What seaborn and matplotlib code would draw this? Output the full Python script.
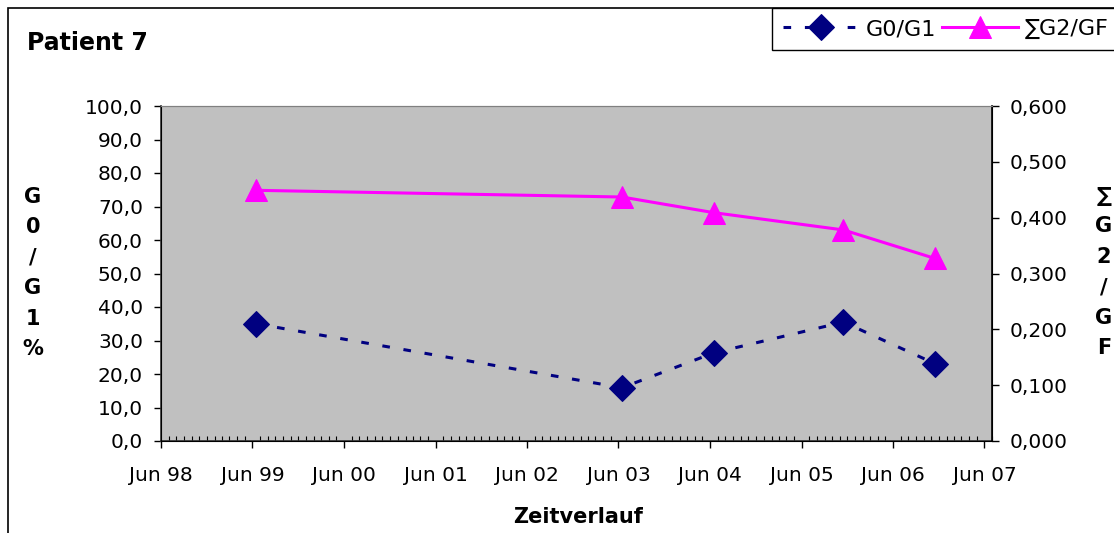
import matplotlib
matplotlib.use('Agg')
import matplotlib.pyplot as plt
import matplotlib.dates as mdates
from matplotlib.patches import Rectangle
from matplotlib.ticker import FuncFormatter
import pandas as pd
import seaborn as sns

# data
dates = pd.to_datetime(['1999-06-15', '2003-06-15', '2004-06-15', '2005-11-15', '2006-11-15'])
g0_g1 = [35.0, 15.9, 26.3, 35.5, 23.1]
g2_gf = [0.449, 0.437, 0.409, 0.378, 0.327]

plt.rcParams['font.family'] = ['DejaVu Sans']

fig = plt.figure(figsize=(11.14, 5.33), dpi=100)
W, H = 1114, 533

ax = fig.add_axes([161 / W, 92 / H, 831 / W, 335 / H])
ax.set_facecolor('#C0C0C0')
ax2 = ax.twinx()

sns.lineplot(x=dates, y=g0_g1, ax=ax, color='#000080', marker='D', markersize=13.5,
             markeredgecolor='#000080', linewidth=2.2, linestyle=(0, (2.5, 4.5)),
             label='G0/G1', legend=False)
sns.lineplot(x=dates, y=g2_gf, ax=ax2, color='#FF00FF', marker='^', markersize=16.5,
             markeredgecolor='#FF00FF', linewidth=2.2, label='∑G2/GF', legend=False)

ax.set_xlim(pd.Timestamp('1998-06-01'), pd.Timestamp('2007-07-01'))
ax.set_ylim(0, 100)
ax2.set_ylim(0, 0.6)
ax.set_yticks(range(0, 101, 10))
ax2.set_yticks([0, 0.1, 0.2, 0.3, 0.4, 0.5, 0.6])
ax.yaxis.set_major_formatter(FuncFormatter(lambda v, p: f'{v:.1f}'.replace('.', ',')))
ax2.yaxis.set_major_formatter(FuncFormatter(lambda v, p: f'{v:.3f}'.replace('.', ',')))

ax.xaxis.set_major_locator(mdates.MonthLocator(bymonth=6))
ax.xaxis.set_minor_locator(mdates.MonthLocator())
ax.xaxis.set_major_formatter(mdates.DateFormatter('%b %y'))

ax.tick_params(axis='x', which='major', direction='out', length=5, width=1, pad=13, labelsize=14.5)
ax.tick_params(axis='x', which='minor', direction='in', length=3.5, width=0.8)
ax.tick_params(axis='y', direction='out', length=5, width=1, pad=8, labelsize=14.5)
ax2.tick_params(axis='y', direction='out', length=5, width=1, pad=8, labelsize=14.5)

ax.set_xlabel('')
ax.set_ylabel('')
ax2.set_ylabel('')
for s in ['left', 'bottom']:
    ax.spines[s].set_color('#333333')
    ax.spines[s].set_linewidth(1.2)
ax.spines['top'].set_color('#808080')
ax2.spines['top'].set_color('#808080')
ax2.spines['right'].set_color('black')
ax2.spines['right'].set_linewidth(1.2)

fig.text(27 / W, 1 - 43 / H, 'Patient 7', fontsize=17, fontweight='bold', ha='left', va='center')
fig.text(578 / W, 1 - 517 / H, 'Zeitverlauf', fontsize=15, fontweight='bold', ha='center', va='center')
fig.text(33 / W, 1 - 273 / H, 'G\n0\n/\nG\n1\n%', fontsize=15, fontweight='bold',
         ha='center', va='center', linespacing=1.65)
fig.text(1104 / W, 1 - 272 / H, '∑\nG\n2\n/\nG\nF', fontsize=15, fontweight='bold',
         ha='center', va='center', linespacing=1.65)

# outer chart border
fig.add_artist(Rectangle((8 / W, -0.1), 1.2, 1.1 - 8 / H, transform=fig.transFigure,
                         fill=False, edgecolor='black', linewidth=1.2))

handles = ax.get_lines()[:1] + ax2.get_lines()[:1]
fig.legend(handles, ['G0/G1', '∑G2/GF'], loc='upper left', bbox_to_anchor=(772 / W, 1 - 8 / H),
           ncol=2, frameon=True, fancybox=False, edgecolor='black', framealpha=1,
           borderaxespad=0, fontsize=16, handlelength=3.4, handletextpad=0.3,
           columnspacing=0.3, borderpad=0.5)

fig.savefig('out.png', dpi=100)
